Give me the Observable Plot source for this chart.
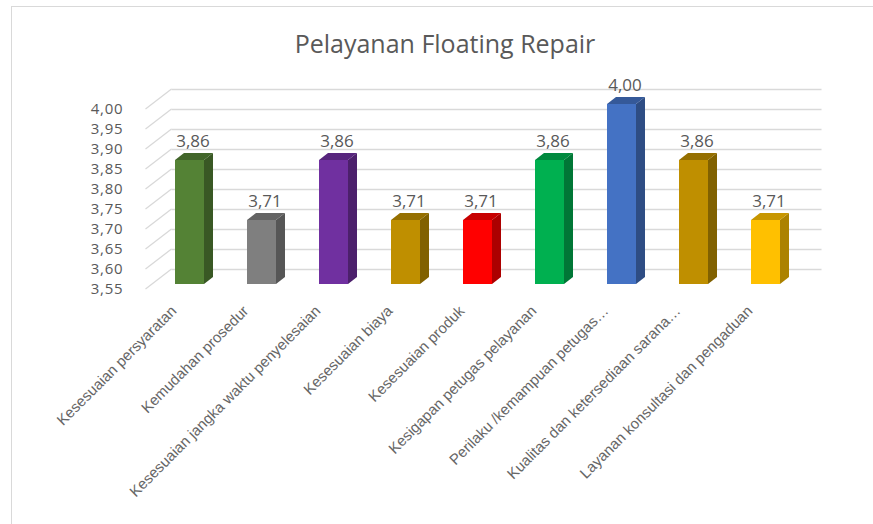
<!DOCTYPE html>
<html><head><meta charset="utf-8">
<script src="https://cdn.jsdelivr.net/npm/d3@7"></script>
<script src="https://cdn.jsdelivr.net/npm/@observablehq/plot@0.6"></script>
<style>
html,body{margin:0;padding:0;background:#fff;}
#wrap{position:relative;width:873px;height:524px;overflow:hidden;background:#fff;}
#border{position:absolute;left:11px;top:6px;width:880px;height:600px;border:1.5px solid #d9d9d9;box-sizing:border-box;}
#title{position:absolute;left:0;top:26px;width:890px;text-align:center;font-family:"Open Sans";font-size:25px;color:#595959;line-height:34px;}
#chart{position:absolute;left:0;top:0;}
g[aria-label="y-axis tick label"] text{letter-spacing:0.8px;}
</style></head><body>
<div id="wrap"><div id="border"></div><div id="title">Pelayanan Floating Repair</div><div id="chart"></div></div>
<script>
const categories = [
  "Kesesuaian persyaratan",
  "Kemudahan prosedur",
  "Kesesuaian jangka waktu penyelesaian",
  "Kesesuaian biaya",
  "Kesesuaian produk",
  "Kesigapan petugas pelayanan",
  "Perilaku /kemampuan petugas…",
  "Kualitas dan ketersediaan sarana…",
  "Layanan konsultasi dan pengaduan"
];
const values = [3.86, 3.71, 3.86, 3.71, 3.71, 3.86, 4.00, 3.86, 3.71];
const yTicks = [3.55, 3.60, 3.65, 3.70, 3.75, 3.80, 3.85, 3.90, 3.95, 4.00];
const baseValue = 3.55;
const colors = ["#548235", "#7f7f7f", "#7030a0", "#bf8f00", "#ff0000", "#00b050", "#4472c4", "#bf8f00", "#ffc000"];

const data = categories.map((c, i) => ({category: c, value: values[i], base: baseValue}));
const fmt = v => v.toFixed(2).replace(".", ",");

const DX = 9, DY = 7;      // bar depth
const WX = 19.5, WY = 15;  // wall depth
const gridColor = "#d9d9d9";

function threeD(index, scales, channels, dims) {
  const {x, y, color} = scales;
  const g = d3.create("svg:g");
  const L = dims.marginLeft;
  for (const t of yTicks) {
    g.append("line")
      .attr("x1", L - 6.5).attr("y1", y(t) + 5)
      .attr("x2", L + WX).attr("y2", y(t) - WY)
      .attr("stroke", gridColor).attr("stroke-width", 1.3);
  }
  const bw = typeof x.bandwidth === "function" ? x.bandwidth() : scales.scales.x.bandwidth;
  for (const d of data) {
    const x0 = x(d.category), x1 = x0 + bw, yt = y(d.value), yb = y(d.base);
    const c = color(d.category);
    g.append("polygon")
      .attr("points", [[x1, yt], [x1 + DX, yt - DY], [x1 + DX, yb - DY], [x1, yb]].join(" "))
      .attr("fill", d3.color(c).darker(1.1).formatHex());
    g.append("polygon")
      .attr("points", [[x0, yt], [x0 + DX, yt - DY], [x1 + DX, yt - DY], [x1, yt]].join(" "))
      .attr("fill", d3.color(c).darker(0.7).formatHex());
  }
  return g.node();
}

const chart = Plot.plot({
  width: 873,
  height: 524,
  marginLeft: 152,
  marginRight: 71,
  marginTop: 104,
  marginBottom: 240,
  style: {background: "transparent", color: "#595959", fontFamily: "Open Sans"},
  x: {domain: categories, paddingInner: 0.6, paddingOuter: 0.3, label: null},
  y: {domain: [3.55, 4.00], label: null},
  color: {type: "ordinal", domain: categories, range: colors},
  marks: [
    Plot.ruleY(yTicks, {dx: WX, dy: -WY, stroke: gridColor, strokeWidth: 1.3}),
    Plot.barY(data, {x: "category", y1: "base", y2: "value", fill: "category"}),
    threeD,
    Plot.text(data, {x: "category", y: "value", text: d => fmt(d.value), dy: -19, dx: 3, fontSize: 17, fontFamily: "Open Sans", fill: "#595959"}),
    Plot.axisY(yTicks, {tickFormat: fmt, tickSize: 0, tickPadding: 29, dy: 5, fontSize: 15, fontFamily: "Open Sans", label: null}),
    Plot.axisX({tickRotate: -45, tickSize: 0, tickPadding: 24, dx: -16, fontSize: 15, fontFamily: "Liberation Sans", fill: "#666666", label: null})
  ]
});
document.getElementById("chart").appendChild(chart);
</script>
</body></html>
